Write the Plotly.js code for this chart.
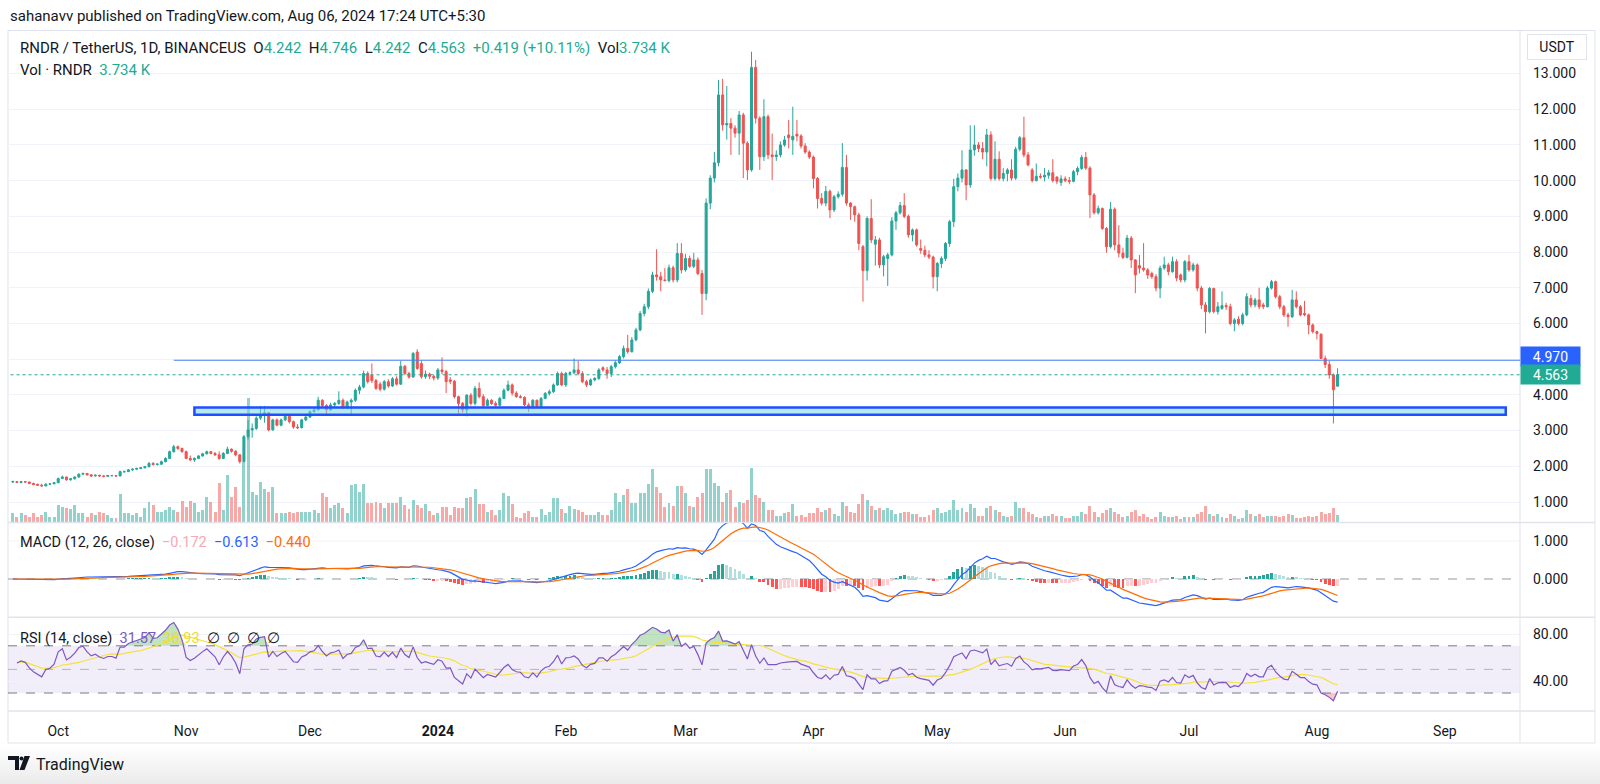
<!DOCTYPE html>
<html><head><meta charset="utf-8">
<script src="https://cdn.plot.ly/plotly-3.0.1.min.js"></script>
<style>
html,body{margin:0;padding:0;width:1600px;height:784px;overflow:hidden;
background:linear-gradient(to bottom,#ffffff 0px,#ffffff 745px,#ebebeb 784px);}
#chart{width:1600px;height:784px;}
</style></head><body><div id="chart"></div>
<script>
// ---------- DATA (daily candles, RNDR/USDT BinanceUS, from 2023-09-20) ----------
const startDate = [2023, 8, 20];
const openP = [
1.56,1.57,1.55,1.57,1.56,1.52,1.49,1.47,1.45,1.50,1.51,
1.54,1.66,1.70,1.62,1.65,1.70,1.78,1.80,1.76,1.73,1.75,1.73,1.72,1.74,1.74,1.73,1.85,1.85,1.90,1.92,1.94,1.96,1.99,2.08,2.05,2.06,2.13,2.22,2.41,2.55,2.50,
2.41,2.22,2.18,2.22,2.29,2.35,2.41,2.36,2.32,2.22,2.36,2.48,2.42,2.32,2.13,2.83,3.02,3.06,3.35,3.45,3.50,3.02,3.30,3.15,3.30,3.40,3.25,3.10,3.08,3.30,
3.38,3.53,3.58,3.85,3.70,3.58,3.72,3.76,3.85,3.64,3.80,3.85,4.13,4.22,4.60,4.55,4.40,4.30,4.16,4.37,4.25,4.45,4.30,4.80,4.60,4.50,5.20,4.88,4.51,4.58,4.52,
4.47,4.70,4.65,4.42,4.38,3.95,3.76,3.58,3.99,3.76,4.18,3.95,3.70,3.85,3.76,3.71,3.90,4.13,4.28,4.05,3.95,3.93,3.72,3.67,3.85,3.67,3.90,4.04,4.09,4.28,4.60,
4.28,4.60,4.62,4.70,4.60,4.37,4.28,4.42,4.46,4.76,4.70,4.60,4.79,4.90,5.07,5.30,5.21,5.54,5.82,6.28,6.47,6.90,7.36,7.31,7.22,7.20,7.56,7.22,7.96,
7.50,7.82,7.60,7.78,7.40,6.84,9.37,10.07,10.50,12.40,11.56,11.60,11.47,11.33,11.84,11.05,10.30,13.17,11.75,10.67,11.79,10.72,10.67,10.72,11.00,11.28,11.14,11.30,11.25,10.97,10.80,
10.66,10.06,9.50,9.37,9.70,9.18,9.55,9.62,10.37,9.37,9.27,9.04,8.15,7.48,8.94,8.22,8.34,7.64,7.82,7.92,8.87,9.10,9.30,9.00,8.48,8.62,8.10,8.05,7.92,7.86,
7.31,7.68,7.82,8.24,8.85,9.83,10.07,10.30,9.88,10.86,11.00,10.90,10.80,11.28,10.06,10.60,10.06,10.20,10.30,10.07,10.88,11.20,10.72,10.30,10.00,10.12,10.10,10.15,10.22,10.10,9.95,
10.05,10.00,9.98,10.25,10.34,10.65,10.35,9.60,9.10,9.22,8.66,8.15,9.20,8.20,7.97,7.85,8.39,7.78,7.62,7.55,7.50,7.40,7.31,6.99,7.55,7.64,7.45,7.73,7.36,7.22,
7.73,7.50,7.64,6.99,6.52,6.33,6.98,6.33,6.42,6.50,6.47,6.00,6.12,6.00,6.24,6.70,6.52,6.66,6.52,6.47,6.99,7.17,6.75,6.47,6.24,6.19,6.66,6.47,6.28,6.24,5.96,
5.77,5.70,5.02,4.85,4.56,4.242];
const highP = [
1.60,1.59,1.58,1.58,1.57,1.54,1.52,1.51,1.52,1.53,1.56,
1.68,1.74,1.71,1.67,1.72,1.80,1.82,1.81,1.78,1.77,1.76,1.75,1.76,1.76,1.75,1.88,1.88,1.92,1.94,1.96,1.98,2.01,2.12,2.12,2.09,2.16,2.25,2.44,2.60,2.58,2.52,
2.44,2.30,2.25,2.31,2.38,2.44,2.43,2.40,2.42,2.40,2.55,2.50,2.45,2.34,2.88,3.30,3.20,3.40,3.69,3.69,3.52,3.33,3.34,3.34,3.44,3.42,3.28,3.18,3.33,3.42,
3.57,3.63,3.95,3.88,3.74,3.78,3.80,4.10,3.90,3.84,3.90,4.18,4.28,4.68,4.66,4.88,4.45,4.36,4.42,4.44,4.50,4.52,4.95,4.84,4.65,5.20,5.28,4.96,4.68,4.62,4.56,
4.75,5.05,4.70,4.50,4.42,3.98,3.80,4.02,4.05,4.25,4.35,4.02,3.90,3.88,3.82,3.95,4.18,4.40,4.32,4.10,4.00,3.96,3.78,3.88,3.87,3.94,4.08,4.15,4.32,4.65,4.65,
4.64,4.66,5.02,4.95,4.66,4.42,4.46,4.50,4.75,4.80,4.78,4.84,4.96,5.12,5.38,5.68,5.62,5.88,6.35,6.55,6.98,7.45,8.08,7.45,7.55,7.65,7.62,8.25,8.25,
7.95,7.90,7.98,7.85,7.50,9.50,10.15,10.80,12.82,12.85,12.65,11.75,11.55,11.95,11.90,11.10,13.61,13.38,11.80,12.28,11.85,11.32,10.85,11.10,11.25,11.70,12.07,11.70,11.30,11.05,10.85,
10.70,10.10,9.65,9.85,9.75,9.60,9.70,11.05,10.72,9.40,9.30,9.10,8.20,9.00,9.48,8.45,8.40,7.92,7.98,8.98,9.15,9.40,9.65,9.05,8.66,8.66,8.35,8.18,8.05,7.90,
7.72,7.88,8.28,8.90,10.05,10.20,10.85,10.32,11.55,11.55,11.08,11.08,11.45,11.38,11.10,10.82,10.35,10.35,10.60,10.95,11.25,11.79,10.80,10.35,10.48,10.20,10.35,10.30,10.60,10.12,10.15,
10.12,10.10,10.30,10.40,10.72,10.80,10.40,9.65,9.30,9.25,8.70,9.40,9.25,8.75,8.12,8.48,8.45,7.80,7.92,8.25,7.55,7.45,7.38,7.62,7.87,7.70,7.87,7.80,7.40,7.78,
7.92,7.70,7.68,7.05,6.60,7.02,7.00,6.60,6.90,6.58,6.55,6.15,6.20,6.30,6.85,6.80,6.72,7.00,6.58,7.05,7.22,7.20,6.80,6.52,6.30,6.94,6.90,6.52,6.63,6.28,6.00,
5.80,5.72,5.10,4.95,4.60,4.746];
const lowP = [
1.54,1.53,1.52,1.54,1.50,1.47,1.46,1.44,1.44,1.48,1.50,
1.53,1.64,1.60,1.60,1.63,1.68,1.76,1.74,1.70,1.71,1.70,1.69,1.71,1.72,1.72,1.72,1.82,1.84,1.87,1.90,1.92,1.94,1.97,2.02,2.02,2.04,2.11,2.20,2.38,2.46,2.38,
2.20,2.15,2.12,2.20,2.27,2.33,2.33,2.29,2.18,2.20,2.34,2.38,2.28,2.08,2.12,2.75,2.80,3.02,3.30,3.22,2.98,3.00,3.12,3.12,3.26,3.20,3.05,3.04,3.06,3.26,
3.35,3.50,3.56,3.66,3.46,3.55,3.64,3.72,3.60,3.60,3.43,3.80,4.02,4.18,4.32,4.33,4.14,4.10,4.12,4.20,4.22,4.26,4.28,4.55,4.45,4.48,4.70,4.45,4.45,4.44,4.40,
4.42,4.58,4.05,4.30,3.90,3.48,3.50,3.40,3.70,3.70,3.90,3.65,3.68,3.72,3.66,3.68,3.88,4.10,3.98,3.92,3.90,3.68,3.52,3.62,3.63,3.64,3.88,3.98,4.05,4.25,4.25,
4.22,4.55,4.58,4.55,4.33,4.22,4.25,4.38,4.42,4.65,4.45,4.50,4.74,4.86,5.02,5.15,5.18,5.50,5.78,6.20,6.40,6.85,7.20,6.90,7.18,7.15,7.15,7.15,7.40,
7.45,7.55,7.55,7.35,6.24,6.65,9.20,9.95,10.40,11.40,11.15,10.72,11.20,10.72,10.07,10.02,10.25,11.60,10.30,10.55,10.60,10.02,10.55,10.65,10.95,10.90,10.72,11.10,10.90,10.75,10.60,
9.78,9.22,9.30,9.28,8.95,9.12,9.50,9.55,9.30,8.90,8.85,8.05,6.61,7.20,8.25,7.62,7.55,7.32,7.05,7.88,8.62,9.05,8.95,8.40,8.30,8.15,7.95,7.85,7.80,6.98,
6.90,7.55,7.75,8.15,8.70,9.70,9.95,9.45,9.80,10.70,10.80,10.60,10.40,10.00,10.00,10.00,9.98,9.98,10.00,10.02,10.82,10.65,10.40,9.95,9.98,10.05,9.98,10.05,9.95,9.90,9.85,
9.95,9.90,9.95,10.15,10.30,10.30,8.95,9.05,9.05,8.62,7.98,8.10,8.05,7.85,7.80,7.82,7.55,6.85,7.40,7.45,7.25,7.25,6.90,6.71,7.50,7.35,7.42,7.18,7.15,7.15,
7.45,7.45,6.90,6.40,5.72,6.28,6.28,6.25,6.38,6.38,5.95,5.78,5.95,5.95,6.20,6.45,6.45,6.40,6.40,6.45,6.95,6.70,6.40,6.18,5.91,6.15,6.42,6.20,6.20,5.70,5.72,
5.55,5.15,4.75,4.45,3.20,4.242];
const closeP = [
1.57,1.55,1.57,1.56,1.52,1.49,1.47,1.45,1.50,1.51,1.54,
1.66,1.70,1.62,1.65,1.70,1.78,1.80,1.76,1.73,1.75,1.73,1.72,1.74,1.74,1.73,1.85,1.85,1.90,1.92,1.94,1.96,1.99,2.08,2.05,2.06,2.13,2.22,2.41,2.55,2.50,2.41,
2.22,2.18,2.22,2.29,2.35,2.41,2.36,2.32,2.22,2.36,2.48,2.42,2.32,2.13,2.83,3.02,3.06,3.35,3.45,3.50,3.02,3.30,3.15,3.30,3.40,3.25,3.10,3.08,3.30,3.38,
3.53,3.58,3.85,3.70,3.58,3.72,3.76,3.85,3.64,3.80,3.85,4.13,4.22,4.60,4.37,4.40,4.18,4.16,4.37,4.25,4.45,4.30,4.80,4.60,4.50,5.16,4.74,4.51,4.58,4.52,4.47,
4.70,4.65,4.37,4.38,3.95,3.76,3.58,3.99,3.76,4.18,3.95,3.70,3.85,3.76,3.71,3.90,4.13,4.28,4.05,3.95,3.93,3.72,3.67,3.85,3.67,3.90,4.04,4.09,4.28,4.60,4.28,
4.60,4.62,4.70,4.60,4.37,4.28,4.42,4.46,4.70,4.70,4.60,4.79,4.90,5.07,5.30,5.21,5.54,5.82,6.28,6.47,6.90,7.36,7.31,7.22,7.20,7.56,7.22,7.96,7.50,
7.82,7.60,7.78,7.40,6.84,9.37,10.07,10.50,12.40,11.56,11.60,11.47,11.33,11.84,11.05,10.30,13.17,11.75,10.67,11.79,10.72,10.67,10.72,11.00,11.14,11.20,11.24,11.25,10.97,10.80,10.66,
10.06,9.50,9.37,9.70,9.18,9.55,9.62,10.37,9.37,9.27,9.04,8.24,7.48,8.94,8.34,8.34,7.64,7.87,7.92,8.87,9.10,9.30,9.00,8.48,8.62,8.20,8.05,7.92,7.86,7.31,
7.68,7.82,8.24,8.85,9.83,10.07,10.30,9.88,10.86,11.00,10.90,10.80,11.28,10.06,10.60,10.06,10.20,10.30,10.07,10.88,11.20,10.72,10.44,10.00,10.12,10.10,10.15,10.22,10.00,9.98,10.05,
10.00,9.98,10.25,10.34,10.65,10.35,9.60,9.10,9.22,8.66,8.15,9.20,8.20,7.97,7.85,8.39,7.78,7.36,7.55,7.50,7.36,7.31,6.99,7.55,7.64,7.45,7.73,7.27,7.22,7.73,
7.50,7.64,6.99,6.52,6.33,6.98,6.33,6.47,6.50,6.47,6.00,6.10,6.00,6.24,6.75,6.52,6.66,6.47,6.47,6.99,7.17,6.75,6.47,6.24,6.19,6.66,6.47,6.24,6.24,5.96,5.77,
5.72,5.02,4.85,4.56,4.144,4.563];
// volume in thousands of RNDR
const volumeK = [
4.5,2.5,4.5,3.5,2.5,4.5,2.5,3.5,5,2.5,2.5,
8.5,7.5,7,6.5,8.5,4.5,4.5,2.5,4.5,3.5,5,4.5,3.5,2,2,14,4.5,4.5,3.5,4.5,2.5,7,10,8.5,5,5,6,7.5,6,5,10.5,
7.5,10.5,9.5,5,6,12.5,10,5,19.5,6,23.5,12.5,17.5,7.5,30,62,15,13.5,20,16.5,15,17.5,4.5,4.5,4.5,5,4.5,5,5,5,
5,6,4.5,14.5,12.5,7,8.5,9.5,7,4.5,18.5,19,15,19,9.5,9.5,10,9.5,7,9.5,9.5,9.5,12.5,8.5,6.5,11,8.5,7,9,5.5,3.5,
4.5,7.5,7.5,3.5,7.5,7,7,12,12.5,16.5,9,9,5,6,3.5,6,14.5,13,9,2.5,2,4.5,5.5,2.5,2.5,6.5,3.5,5,12,12,6.5,
4.5,8,6.5,6,5,3.5,3.5,3.5,5,3.5,3.5,6,14.5,10,13.5,16.5,9.5,9.5,14.5,14.5,19,26.5,17.5,14.5,7.5,9.5,8,18,18,
14.5,8,7.5,12.5,14.5,26.5,26.5,19.5,18,10,14.5,16,7.5,10,9.5,11,27,13.5,12,10,6,6,3,3,4.5,5,9,3,3.5,2.5,4.5,
4.5,7,5,6,7,4,3,10,8,5,4.5,9,14,11,8,6,7,6,7,6,4,4.5,5,5,4,4,2.5,2.5,3.5,6,
7,4.5,5,6,11,6,7,5,9,7,3,3,7,8,6,5,3,2.5,3,10,7,7,5,4,2.5,2,3,3,4,3,3,
2,2,3,3,5,4,8,5,2.5,4.5,6,7,5,4,2.5,3,5,6,3,4,2.5,1.5,2.5,5,3,2.5,2.5,3,1.5,2.5,
2.5,2.5,4,5,8,4,3,4,2.5,2,4,3,1.5,2,6,4,3,4,2.5,3,3,3,2.5,3,4,3.5,2,2,2.5,3,2.5,
3,5,4,4.5,7,3.734];
const monthTicks = ['2023-10-01','2023-11-01','2023-12-01','2024-01-01','2024-02-01','2024-03-01','2024-04-01','2024-05-01','2024-06-01','2024-07-01','2024-08-01','2024-09-01'];
const monthLabels = ['Oct','Nov','Dec','<b>2024</b>','Feb','Mar','Apr','May','Jun','Jul','Aug','Sep'];
const priceTicks = [1,2,3,4,5,6,7,8,9,10,11,12,13];
const resistanceLevel = 4.970;
const lastClose = 4.563;
const supportZone = [3.445, 3.645];

// ---------- dates ----------
const dates = closeP.map((_, i) => {
  const d = new Date(Date.UTC(startDate[0], startDate[1], startDate[2] + i));
  return d.toISOString().slice(0, 10);
});

// ---------- indicators (computed from the closes) ----------
function ema(src, n) {
  const k = 2 / (n + 1); const out = []; let prev = src[0];
  src.forEach((v, i) => { prev = i === 0 ? v : v * k + prev * (1 - k); out.push(prev); });
  return out;
}
const e12 = ema(closeP, 12), e26 = ema(closeP, 26);
const macd = e12.map((v, i) => v - e26[i]);
const signal = ema(macd, 9);
const hist = macd.map((v, i) => v - signal[i]);
const histColors = hist.map((h, i) => {
  const p = i > 0 ? hist[i - 1] : 0;
  if (h >= 0) return h > p ? '#26a69a' : '#b2dfdb';
  return h < p ? '#ff5252' : '#ffcdd2';
});
// Wilder RSI(14); the smoothing is seeded with the mean move of the first 14 days
const rsi = new Array(closeP.length).fill(null);
(function () {
  const n = 14; let ag = 0, al = 0;
  for (let i = 1; i <= n; i++) { const c = closeP[i] - closeP[i - 1]; ag += Math.max(c, 0); al += Math.max(-c, 0); }
  ag /= n; al /= n;
  for (let i = 1; i < closeP.length; i++) {
    const c = closeP[i] - closeP[i - 1];
    ag = (ag * (n - 1) + Math.max(c, 0)) / n; al = (al * (n - 1) + Math.max(-c, 0)) / n;
    rsi[i] = al === 0 ? 100 : 100 - 100 / (1 + ag / al);
  }
})();
const rsiMA = rsi.map((v, i) => {
  if (i < 1) return null; const j0 = Math.max(1, i - 13); let s = 0;
  for (let j = j0; j <= i; j++) s += rsi[j]; return s / (i - j0 + 1);
});
const rsiHi = rsi.map(v => v == null ? null : Math.max(v, 70));
const rsiLo = rsi.map(v => v == null ? null : Math.min(v, 30));
const line70 = rsi.map(v => v == null ? null : 70);
const line30 = rsi.map(v => v == null ? null : 30);

// ---------- geometry helpers (pixel -> paper) ----------
const L = 8, R = 1520, T = 31, B = 711;
const X = px => (px - L) / (R - L);
const Y = py => (B - py) / (B - T);
const mainBottom = Y(522.4), macdBottom = Y(617.3);
const xRange = ['2023-09-18 20:00', '2024-09-19 05:00'];

const UP = '#26a69a', DN = '#ef5350', TXT = '#131722';
const FONT = 'Roboto, "Liberation Sans", Arial, sans-serif';
const volColors = closeP.map((c, i) => c >= openP[i] ? 'rgba(38,166,154,0.5)' : 'rgba(239,83,80,0.5)');
const volMax = Math.max(...volumeK);

const traces = [
  { type: 'bar', x: dates, y: volumeK, xaxis: 'x', yaxis: 'y', marker: { color: volColors, line: { width: 0 } },
    width: 0.72 * 86400000, hoverinfo: 'skip' },
  { type: 'candlestick', x: dates, open: openP, high: highP, low: lowP, close: closeP, xaxis: 'x', yaxis: 'y4',
    increasing: { line: { color: UP, width: 1 }, fillcolor: UP },
    decreasing: { line: { color: DN, width: 1 }, fillcolor: DN }, whiskerwidth: 0, hoverinfo: 'skip' },
  { type: 'bar', x: dates, y: hist, xaxis: 'x', yaxis: 'y2', marker: { color: histColors, line: { width: 0 } },
    width: 0.7 * 86400000, hoverinfo: 'skip' },
  { type: 'scatter', mode: 'lines', x: dates, y: macd, xaxis: 'x', yaxis: 'y2', line: { color: '#2962ff', width: 1.2 }, hoverinfo: 'skip' },
  { type: 'scatter', mode: 'lines', x: dates, y: signal, xaxis: 'x', yaxis: 'y2', line: { color: '#ff6d00', width: 1.2 }, hoverinfo: 'skip' },
  { type: 'scatter', mode: 'lines', x: dates, y: line70, xaxis: 'x', yaxis: 'y3', line: { width: 0 }, hoverinfo: 'skip' },
  { type: 'scatter', mode: 'lines', x: dates, y: rsiHi, xaxis: 'x', yaxis: 'y3', line: { width: 0 }, fill: 'tonexty', fillcolor: 'rgba(76,175,80,0.35)', hoverinfo: 'skip' },
  { type: 'scatter', mode: 'lines', x: dates, y: line30, xaxis: 'x', yaxis: 'y3', line: { width: 0 }, hoverinfo: 'skip' },
  { type: 'scatter', mode: 'lines', x: dates, y: rsiLo, xaxis: 'x', yaxis: 'y3', line: { width: 0 }, fill: 'tonexty', fillcolor: 'rgba(242,54,69,0.3)', hoverinfo: 'skip' },
  { type: 'scatter', mode: 'lines', x: dates, y: rsiMA, xaxis: 'x', yaxis: 'y3', line: { color: '#f5e13b', width: 1.2 }, hoverinfo: 'skip' },
  { type: 'scatter', mode: 'lines', x: dates, y: rsi, xaxis: 'x', yaxis: 'y3', line: { color: '#7e57c2', width: 1.2 }, hoverinfo: 'skip' }
];

const axisFont = { family: FONT, size: 14, color: TXT };
const shapes = [
  { type: 'rect', xref: 'paper', yref: 'paper', x0: X(8), x1: X(1595), y0: Y(743), y1: Y(30.5), line: { color: '#e0e3eb', width: 1 }, layer: 'below' },
  { type: 'line', xref: 'paper', yref: 'paper', x0: X(8), x1: X(1595), y0: mainBottom, y1: mainBottom, line: { color: '#e0e3eb', width: 1.5 } },
  { type: 'line', xref: 'paper', yref: 'paper', x0: X(8), x1: X(1595), y0: macdBottom, y1: macdBottom, line: { color: '#e0e3eb', width: 1.5 } },
  { type: 'line', xref: 'paper', yref: 'paper', x0: X(8), x1: X(1595), y0: 0, y1: 0, line: { color: '#e0e3eb', width: 1.5 } },
  { type: 'line', xref: 'paper', yref: 'paper', x0: 1, x1: 1, y0: Y(743), y1: Y(30.5), line: { color: '#e0e3eb', width: 1 } },
  { type: 'line', xref: 'paper', yref: 'y2', x0: 0, x1: 1, y0: 1, y1: 1, line: { color: '#f0f3fa', width: 1 }, layer: 'below' },
  { type: 'line', xref: 'paper', yref: 'y2', x0: 0, x1: 1, y0: 0, y1: 0, line: { color: '#9598a1', width: 1, dash: 'dash' }, layer: 'below' },
  { type: 'rect', xref: 'paper', yref: 'y3', x0: 0, x1: 1, y0: 30, y1: 70, fillcolor: 'rgba(126,87,194,0.1)', line: { width: 0 }, layer: 'below' },
  { type: 'line', xref: 'paper', yref: 'y3', x0: 0, x1: 1, y0: 70, y1: 70, line: { color: '#787b86', width: 1, dash: 'dash' }, layer: 'below' },
  { type: 'line', xref: 'paper', yref: 'y3', x0: 0, x1: 1, y0: 50, y1: 50, line: { color: 'rgba(120,123,134,0.5)', width: 1, dash: 'dash' }, layer: 'below' },
  { type: 'line', xref: 'paper', yref: 'y3', x0: 0, x1: 1, y0: 30, y1: 30, line: { color: '#787b86', width: 1, dash: 'dash' }, layer: 'below' },
  { type: 'line', xref: 'x', yref: 'y4', x0: '2023-09-18', x1: xRange[1], y0: lastClose, y1: lastClose, line: { color: UP, width: 1, dash: 'dot' } },
  { type: 'line', xref: 'x', yref: 'y4', x0: '2023-10-29', x1: xRange[1], y0: resistanceLevel, y1: resistanceLevel, line: { color: '#4a7ff5', width: 1.2 } },
  { type: 'rect', xref: 'x', yref: 'y4', x0: '2023-11-03', x1: '2024-09-15 18:00', y0: supportZone[0], y1: supportZone[1],
    fillcolor: 'rgba(120,215,235,0.55)', line: { color: '#1f4fff', width: 2.5 } },
  { type: 'path', xref: 'paper', yref: 'paper', path: `M ${X(8)} ${Y(756)} L ${X(19)} ${Y(756)} L ${X(19)} ${Y(770)} L ${X(15)} ${Y(770)} L ${X(15)} ${Y(760)} L ${X(8)} ${Y(760)} Z`, fillcolor: '#131722', line: { width: 0 } },
  { type: 'circle', xref: 'paper', yref: 'paper', x0: X(19.5), x1: X(23.5), y0: Y(760.5), y1: Y(756.5), fillcolor: '#131722', line: { width: 0 } },
  { type: 'path', xref: 'paper', yref: 'paper', path: `M ${X(24.5)} ${Y(756)} L ${X(30)} ${Y(756)} L ${X(24.5)} ${Y(770)} L ${X(19.5)} ${Y(770)} Z`, fillcolor: '#131722', line: { width: 0 } }
];

const sp = '&nbsp;';
const g = t => `<span style="color:#22ab94">${t}</span>`;
const annotations = [
  { xref: 'paper', yref: 'paper', x: X(8), y: Y(15.5), xanchor: 'left', yanchor: 'middle', showarrow: false,
    text: 'sahanavv published on TradingView.com, Aug 06, 2024 17:24 UTC+5:30', font: { family: FONT, size: 15, color: TXT } },
  { xref: 'paper', yref: 'paper', x: X(18), y: Y(48), xanchor: 'left', yanchor: 'middle', showarrow: false,
    text: `RNDR / TetherUS, 1D, BINANCEUS${sp}${sp}O${g('4.242')}${sp}${sp}H${g('4.746')}${sp}${sp}L${g('4.242')}${sp}${sp}C${g('4.563')}${sp}${sp}${g('+0.419 (+10.11%)')}${sp}${sp}Vol${g('3.734' + sp + 'K')}`,
    font: { family: FONT, size: 15, color: TXT } },
  { xref: 'paper', yref: 'paper', x: X(18), y: Y(69.5), xanchor: 'left', yanchor: 'middle', showarrow: false,
    text: `Vol · RNDR${sp}${sp}${g('3.734' + sp + 'K')}`, font: { family: FONT, size: 15, color: TXT } },
  { xref: 'paper', yref: 'paper', x: X(18), y: Y(542), xanchor: 'left', yanchor: 'middle', showarrow: false,
    text: `MACD (12, 26, close)${sp}${sp}<span style="color:#f7a8b1">−0.172</span>${sp}${sp}<span style="color:#2962ff">−0.613</span>${sp}${sp}<span style="color:#ff6d00">−0.440</span>`,
    font: { family: FONT, size: 14.5, color: TXT } },
  { xref: 'paper', yref: 'paper', x: X(18), y: Y(638), xanchor: 'left', yanchor: 'middle', showarrow: false,
    text: `RSI (14, close)${sp}${sp}<span style="color:#7e57c2">31.57</span>${sp}${sp}<span style="color:#f0dc2e">36.93</span>${sp}${sp}∅${sp}${sp}∅${sp}${sp}∅${sp}${sp}∅`,
    font: { family: FONT, size: 14.5, color: TXT } },
  { xref: 'paper', yref: 'y4', x: 1, y: resistanceLevel, xanchor: 'left', yanchor: 'middle', yshift: 4, showarrow: false,
    text: '4.970', bgcolor: '#2962ff', width: 57, height: 17, font: { family: FONT, size: 14, color: '#ffffff' } },
  { xref: 'paper', yref: 'y4', x: 1, y: lastClose, xanchor: 'left', yanchor: 'middle', showarrow: false,
    text: '4.563', bgcolor: '#22ab94', width: 57, height: 17, font: { family: FONT, size: 14, color: '#ffffff' } },
  { xref: 'paper', yref: 'paper', x: X(1557), y: Y(47), xanchor: 'center', yanchor: 'middle', showarrow: false,
    text: 'USDT', bgcolor: '#ffffff', bordercolor: '#e0e3eb', borderwidth: 1, width: 56, height: 22, font: { family: FONT, size: 14, color: TXT } },
  { xref: 'paper', yref: 'paper', x: X(34), y: Y(764), xanchor: 'left', yanchor: 'middle', showarrow: false,
    text: 'TradingView', font: { family: FONT, size: 16, color: TXT } }
];

const layout = {
  width: 1600, height: 784, margin: { l: L, r: 1600 - R, t: T, b: 784 - B },
  paper_bgcolor: 'rgba(0,0,0,0)', plot_bgcolor: 'rgba(0,0,0,0)', showlegend: false, hovermode: false,
  font: { family: FONT, color: TXT },
  xaxis: { type: 'date', range: xRange, anchor: 'y3', tickvals: monthTicks, ticktext: monthLabels, showgrid: false,
    zeroline: false, showline: false, ticks: '', tickfont: axisFont, ticklabelstandoff: 10, rangeslider: { visible: false }, fixedrange: true },
  yaxis: { domain: [mainBottom, 1], range: [0, volMax * 491.4 / 124], visible: false, fixedrange: true },
  yaxis4: { overlaying: 'y', side: 'right', range: [0.429, 14.19], tickvals: priceTicks, tickformat: '.3f', showgrid: true,
    gridcolor: '#f0f3fa', zeroline: false, showline: false, ticks: '', tickfont: axisFont, ticklabelstandoff: 12, fixedrange: true },
  yaxis2: { domain: [macdBottom, mainBottom], range: [-1.008, 1.489], side: 'right', tickvals: [0, 1], ticktext: ['0.000', '1.000'],
    showgrid: false, zeroline: false, showline: false, ticks: '', tickfont: axisFont, ticklabelstandoff: 12, fixedrange: true },
  yaxis3: { domain: [0, macdBottom], range: [14.75, 94.15], side: 'right', tickvals: [40, 80], ticktext: ['40.00', '80.00'],
    showgrid: true, gridcolor: '#f0f3fa', zeroline: false, showline: false, ticks: '', tickfont: axisFont, ticklabelstandoff: 12, fixedrange: true },
  bargap: 0, shapes: shapes, annotations: annotations
};

Plotly.newPlot('chart', traces, layout, { staticPlot: true, displayModeBar: false });
</script>
</body></html>
